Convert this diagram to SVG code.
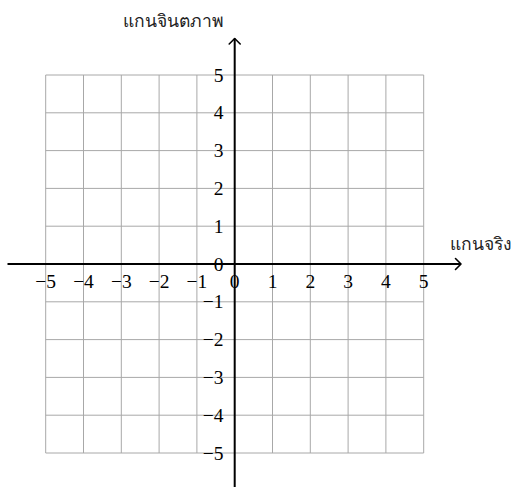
<svg xmlns="http://www.w3.org/2000/svg" width="512" height="487" viewBox="0 0 512 487">
<defs>
<style>
.grid{stroke:#a8a8a8;stroke-width:1;fill:none}
.axis{stroke:#000;stroke-width:2;fill:none}
.arrow{stroke:#000;stroke-width:1.6;fill:none;stroke-linecap:round;stroke-linejoin:round}
.num{font-family:"Liberation Serif","DejaVu Serif",serif;font-size:19.5px;fill:#000}
.xl{text-anchor:middle}
.yl{text-anchor:end}
.th{font-family:"Noto Sans","DejaVu Sans",sans-serif;font-size:17.5px;fill:#222}
</style>
</defs>
<rect width="512" height="487" fill="#fff"/>
<g id="grid" class="grid">
<path d="M45.7 75V453M83.5 75V453M121.3 75V453M159.1 75V453M196.9 75V453M272.5 75V453M310.3 75V453M348.1 75V453M385.9 75V453M423.7 75V453"/>
<path d="M45.7 75H423.7M45.7 112.8H423.7M45.7 150.6H423.7M45.7 188.4H423.7M45.7 226.2H423.7M45.7 301.8H423.7M45.7 339.6H423.7M45.7 377.4H423.7M45.7 415.2H423.7M45.7 453H423.7"/>
</g>
<g id="connectors">
<line id="x-axis" class="axis" x1="7.5" y1="264" x2="461" y2="264"/>
<path class="arrow" d="M455.5 258.5L461 264L455.5 269.5"/>
<line id="y-axis" class="axis" x1="234.7" y1="487" x2="234.7" y2="38.5"/>
<path class="arrow" d="M229.2 44L234.7 38.5L240.2 44"/>
</g>
<g id="x-labels" class="num xl">
<text x="45.7" y="288">−5</text>
<text x="83.5" y="288">−4</text>
<text x="121.3" y="288">−3</text>
<text x="159.1" y="288">−2</text>
<text x="196.9" y="288">−1</text>
<text x="234.7" y="288">0</text>
<text x="272.5" y="288">1</text>
<text x="310.3" y="288">2</text>
<text x="348.1" y="288">3</text>
<text x="385.9" y="288">4</text>
<text x="423.7" y="288">5</text>
</g>
<g id="y-labels" class="num yl">
<text x="223.5" y="81.5">5</text>
<text x="223.5" y="119.3">4</text>
<text x="223.5" y="157.1">3</text>
<text x="223.5" y="194.9">2</text>
<text x="223.5" y="232.7">1</text>
<text x="223.5" y="270.5">0</text>
<text x="223.5" y="308.3">−1</text>
<text x="223.5" y="346.1">−2</text>
<text x="223.5" y="383.9">−3</text>
<text x="223.5" y="421.7">−4</text>
<text x="223.5" y="459.5">−5</text>
</g>
<g id="label-imag">
<text class="th" x="123" y="27">แกนจินตภาพ</text>
</g>
<g id="label-real">
<text class="th" x="450" y="250">แกนจริง</text>
</g>
</svg>
